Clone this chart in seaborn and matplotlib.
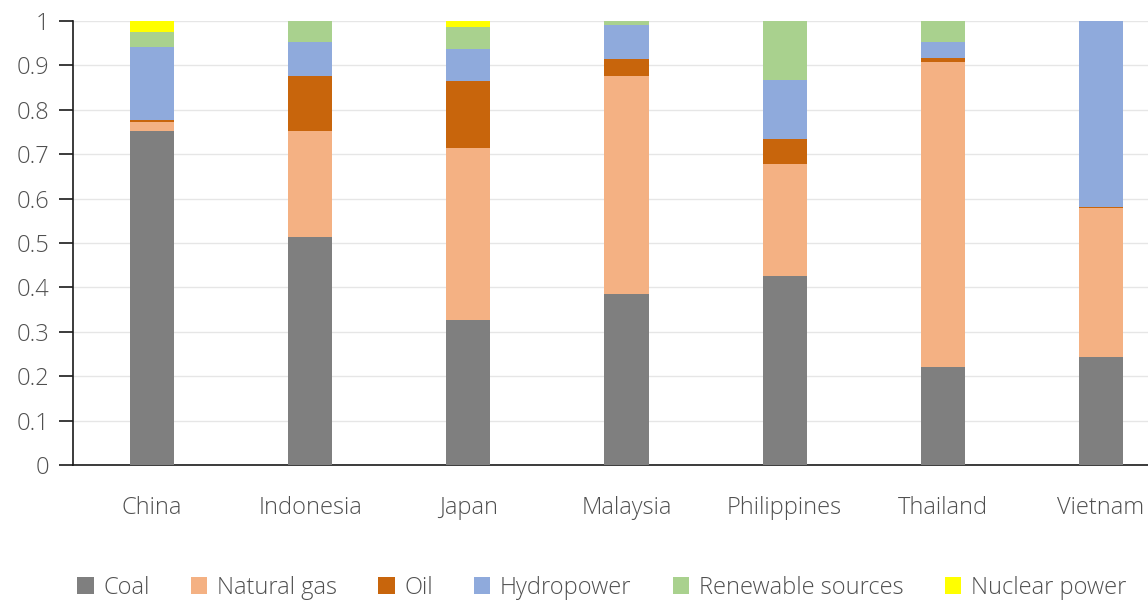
import matplotlib
matplotlib.use("Agg")
import matplotlib.pyplot as plt
from matplotlib.patches import Patch
import seaborn as sns
import pandas as pd
import numpy as np

countries = ["China", "Indonesia", "Japan", "Malaysia", "Philippines", "Thailand", "Vietnam"]
sources = ["Coal", "Natural gas", "Oil", "Hydropower", "Renewable sources", "Nuclear power"]

coal = [0.752, 0.513, 0.327, 0.385, 0.426, 0.221, 0.243]
natural_gas = [0.021, 0.239, 0.386, 0.491, 0.251, 0.686, 0.335]
oil = [0.003, 0.124, 0.152, 0.038, 0.057, 0.010, 0.003]
hydropower = [0.166, 0.077, 0.073, 0.077, 0.133, 0.035, 0.418]
renewable = [0.033, 0.047, 0.049, 0.009, 0.133, 0.048, 0.001]
nuclear = [0.025, 0.000, 0.013, 0.000, 0.000, 0.000, 0.000]

colors = ["#7f7f7f", "#f4b183", "#c8650c", "#8faadc", "#a9d18e", "#ffff00"]

series = [coal, natural_gas, oil, hydropower, renewable, nuclear]
df = pd.DataFrame({"country": countries})
for name, vals in zip(sources, series):
    df[name] = vals

sns.set_theme(style="white")
plt.rcParams["font.family"] = ["Open Sans", "DejaVu Sans"]
plt.rcParams["font.weight"] = "light"

fig = plt.figure(figsize=(11.48, 6.0), dpi=100)
# axes extend past the right edge of the figure, so the last bar sits close to the border
ax = fig.add_axes([73 / 1148, 135 / 600, 1107 / 1148, 444 / 600])

bottom = np.zeros(len(countries))
for name, col in zip(sources, colors):
    sns.barplot(data=df, x="country", y=name, bottom=bottom, color=col,
                width=0.28, ax=ax, saturation=1, linewidth=0, zorder=3)
    bottom = bottom + df[name].to_numpy()

ax.set_ylim(0, 1)
ax.set_xlim(-0.5, len(countries) - 0.5)
ax.set_yticks(np.arange(0, 1.01, 0.1))
ax.set_yticklabels(["0", "0.1", "0.2", "0.3", "0.4", "0.5", "0.6", "0.7", "0.8", "0.9", "1"])
ax.yaxis.grid(True, color="#e6e6e6", linewidth=1, zorder=0)
ax.set_axisbelow(True)
ax.set_xlabel("")
ax.set_ylabel("")

for s in ["top", "right"]:
    ax.spines[s].set_visible(False)
ax.spines["left"].set_color("#1a1a1a")
ax.spines["bottom"].set_color("#1a1a1a")
ax.spines["left"].set_linewidth(1.2)
ax.spines["bottom"].set_linewidth(1.2)

ax.tick_params(axis="y", direction="out", length=10, width=1.2, color="#1a1a1a",
               labelsize=17, labelcolor="#505050", pad=7, left=True)
ax.tick_params(axis="x", length=0, labelsize=17, labelcolor="#505050", pad=22)

handles = [Patch(facecolor=c, edgecolor="none", label=s) for s, c in zip(sources, colors)]
fig.legend(handles=handles, loc="lower center", bbox_to_anchor=(0.524, -0.035), ncol=6,
           frameon=False, prop={"size": 17, "weight": "light"},
           handlelength=0.7, handleheight=0.7, handletextpad=0.4, columnspacing=1.75,
           labelcolor="#505050")

fig.savefig("out.png", dpi=100, facecolor="white")
